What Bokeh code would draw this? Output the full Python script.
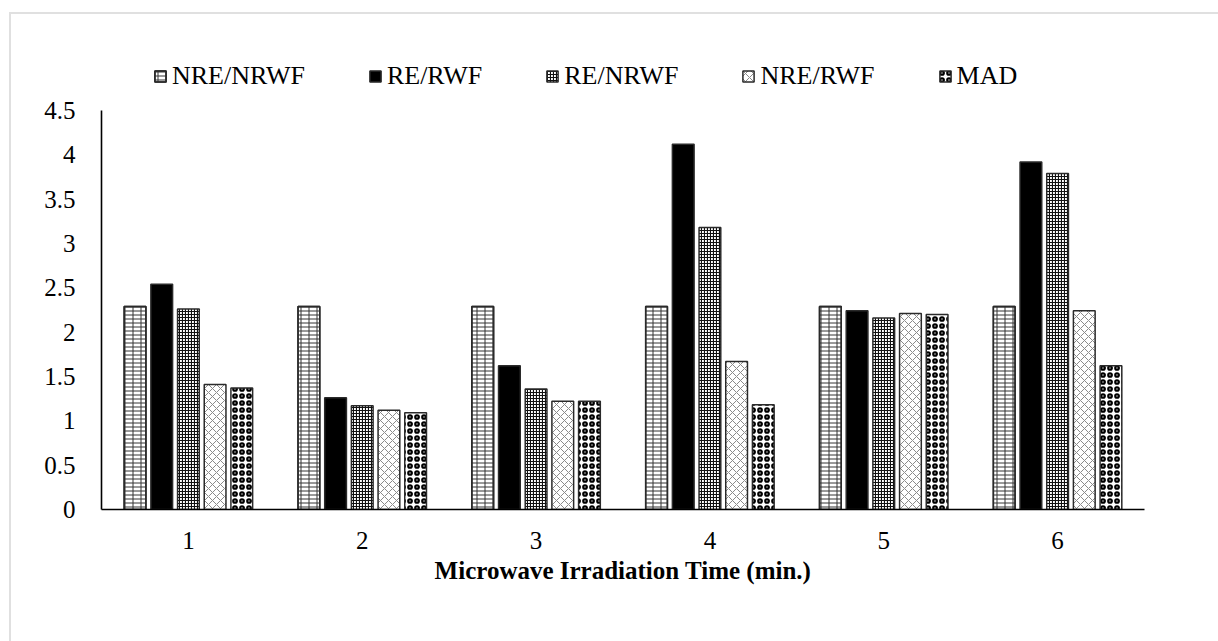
from bokeh.plotting import figure
from bokeh.models import (ColumnDataSource, Range1d, FixedTicker, Legend, LegendItem,
                          InlineStyleSheet)
from bokeh.transform import dodge
from bokeh.embed import file_html
from bokeh.resources import INLINE

categories = [1, 2, 3, 4, 5, 6]
series_names = ["NRE/NRWF", "RE/RWF", "RE/NRWF", "NRE/RWF", "MAD"]
nre_nrwf = [2.29, 2.29, 2.29, 2.29, 2.29, 2.29]
re_rwf = [2.54, 1.26, 1.62, 4.12, 2.24, 3.92]
re_nrwf = [2.26, 1.17, 1.36, 3.18, 2.16, 3.79]
nre_rwf = [1.41, 1.12, 1.22, 1.67, 2.21, 2.24]
mad = [1.37, 1.09, 1.22, 1.18, 2.20, 1.62]
y_ticks = [0, 0.5, 1, 1.5, 2, 2.5, 3, 3.5, 4, 4.5]
y_tick_labels = ["0", "0.5", "1", "1.5", "2", "2.5", "3", "3.5", "4", "4.5"]
x_title = "Microwave Irradiation Time (min.)"

source = ColumnDataSource(data=dict(
    x=categories, s0=nre_nrwf, s1=re_rwf, s2=re_nrwf, s3=nre_rwf, s4=mad))

W, H = 1210, 633
# frame extends above the 4.5 axis top so the legend can sit inside it
p = figure(width=W, height=H, output_backend="svg", toolbar_location=None,
           x_range=Range1d(0.5, 6.5), y_range=Range1d(0, 5.289),
           min_border_left=101, min_border_right=66, min_border_top=40,
           min_border_bottom=124)
p.outline_line_color = None
p.xgrid.visible = False
p.ygrid.visible = False
p.background_fill_color = "white"
p.border_fill_color = "white"
p.stylesheets = [InlineStyleSheet(css="""
:host { position: relative; }
:host::after { content: ''; position: absolute; left: 9px; top: 12px;
  width: 2000px; height: 2000px; border-left: 2px solid #e0e0e0;
  border-top: 2px solid #e0e0e0; pointer-events: none; }
""")]

pitch = 0.1535
bw = 0.125
line_kw = dict(line_color="#2a2a2a", line_width=1.5)

layers = [
    [dict(fill_color="white", hatch_pattern="horizontal_line", hatch_color="#333333",
          hatch_scale=4, hatch_weight=1),
     dict(fill_alpha=0, hatch_pattern="vertical_line", hatch_color="#333333",
          hatch_scale=8, hatch_weight=1)],
    [dict(fill_color="black")],
    [dict(fill_color="white", hatch_pattern="cross", hatch_color="#111111",
          hatch_scale=3, hatch_weight=1.2)],
    [dict(fill_color="white", hatch_pattern="diagonal_cross", hatch_color="#8a8a8a",
          hatch_scale=8, hatch_weight=1)],
    [dict(fill_color="white", hatch_pattern="ring", hatch_color="black",
          hatch_scale=7, hatch_weight=2.2)],
]
items = []
for i, name in enumerate(series_names):
    rs = []
    for st in layers[i]:
        r = p.vbar(x=dodge("x", (i - 2) * pitch, range=p.x_range), top="s%d" % i,
                   width=bw, bottom=0, source=source, **line_kw, **st)
        rs.append(r)
    items.append(LegendItem(label=name, renderers=rs))

legend = Legend(items=items, orientation="horizontal", location=(52, 418),
                glyph_width=14, glyph_height=14, label_standoff=5, spacing=63,
                padding=0, margin=0, border_line_color=None,
                background_fill_alpha=0, label_text_font="Liberation Serif",
                label_text_font_size="26px", label_text_color="black")
p.add_layout(legend, "center")

for ax in (p.xaxis[0], p.yaxis[0]):
    ax.major_tick_line_color = None
    ax.minor_tick_line_color = None
    ax.major_tick_out = 0
    ax.major_tick_in = 0
    ax.axis_line_color = "black"
    ax.axis_line_width = 1.6
    ax.major_label_text_font = "Liberation Serif"
    ax.major_label_text_font_size = "25px"
    ax.major_label_text_color = "black"

p.xaxis.ticker = FixedTicker(ticks=categories)
p.xaxis.major_label_standoff = 22
p.xaxis.axis_label = x_title
p.xaxis.axis_label_text_font = "Liberation Serif"
p.xaxis.axis_label_text_font_size = "25px"
p.xaxis.axis_label_text_font_style = "bold"
p.xaxis.axis_label_text_color = "black"
p.xaxis.axis_label_standoff = 5

p.yaxis.ticker = FixedTicker(ticks=y_ticks)
p.yaxis.bounds = (0, 4.5)
p.yaxis.major_label_overrides = {t: l for t, l in zip(y_ticks, y_tick_labels)}
p.yaxis.major_label_standoff = 26

open("out.html", "w").write(file_html(p, INLINE))
